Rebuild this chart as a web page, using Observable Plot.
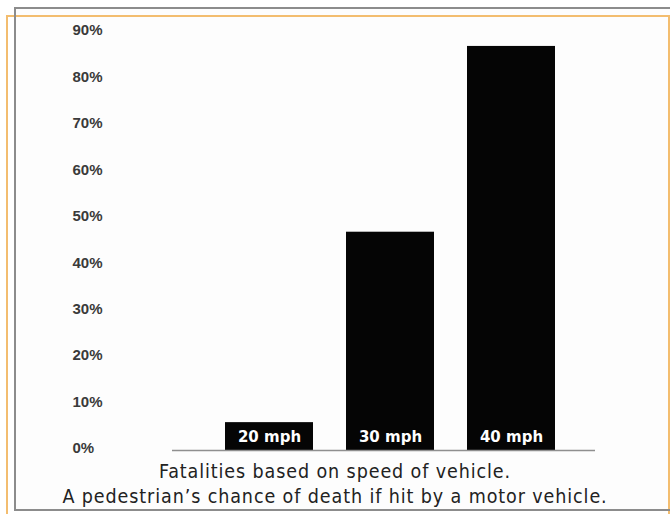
<!DOCTYPE html>
<html>
<head>
<meta charset="utf-8">
<script src="https://cdn.jsdelivr.net/npm/d3@7"></script>
<script src="https://cdn.jsdelivr.net/npm/@observablehq/plot@0.6"></script>
<style>
  html, body { margin: 0; padding: 0; background: #ffffff; width: 670px; height: 514px; overflow: hidden; }
  #wrap { position: relative; width: 670px; height: 514px; }
  #graybg { position: absolute; left: 14px; top: 7px; width: 700px; height: 504px; background: #fdfdfd; }
  #orange { position: absolute; left: 6px; top: 15px; width: 664px; height: 520px; border: 2px solid #f3bd6f; box-sizing: border-box; }
  #gray { position: absolute; left: 14px; top: 7px; width: 700px; height: 504px; border: 2px solid #8c8c8c; box-sizing: border-box; }
  #chart { position: absolute; left: 0; top: 0; }
  #caption { position: absolute; left: 0; top: 459px; width: 670px; text-align: center; font-family: "DejaVu Sans Condensed", "DejaVu Sans", sans-serif; font-stretch: condensed; font-size: 19.5px; letter-spacing: 0.9px; line-height: 25px; color: #222; }
</style>
</head>
<body>
<div id="wrap">
  <div id="graybg"></div>
  <div id="orange"></div>
  <div id="gray"></div>
  <div id="chart"></div>
  <div id="caption">Fatalities based on speed of vehicle.<br>A pedestrian’s chance of death if hit by a motor vehicle.</div>
</div>
<script>
const speeds = ["20 mph", "30 mph", "40 mph"];
const fatality = [6, 47, 87];
const yTicks = [0, 10, 20, 30, 40, 50, 60, 70, 80, 90];

const data = speeds.map((s, i) => ({speed: s, value: fatality[i]}));

const chart = Plot.plot({
  width: 670,
  height: 458,
  marginLeft: 172,
  marginRight: 75,
  marginTop: 32,
  marginBottom: 8,
  style: {background: "transparent", overflow: "visible"},
  x: {domain: speeds, paddingInner: 0.27, paddingOuter: 0.37, align: 0.57, axis: null},
  y: {domain: [0, 90], ticks: yTicks, label: null},
  marks: [
    Plot.axisY({
      ticks: yTicks,
      tickSize: 0,
      label: null,
      tickFormat: d => d + "%",
      textAnchor: "start",
      dx: -91,
      dy: -2,
      fontSize: 15,
      fontWeight: "bold",
      fill: "#3a3a3a",
      fontFamily: "Liberation Sans, Arial, sans-serif"
    }),
    Plot.barY(data, {x: "speed", y: "value", fill: "#050505"}),
    Plot.ruleY([0], {stroke: "#8f8f8f", strokeWidth: 1.6}),
    Plot.text(data, {
      x: "speed", y: 0, text: "speed", dy: -13,
      fill: "#ffffff", fontSize: 15, fontWeight: "bold",
      fontFamily: "DejaVu Sans, sans-serif"
    })
  ]
});
document.getElementById("chart").appendChild(chart);
</script>
</body>
</html>
